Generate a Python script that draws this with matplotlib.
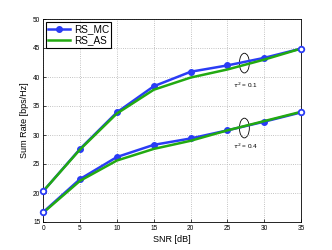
import numpy as np
import matplotlib.pyplot as plt
from matplotlib.patches import Ellipse

plt.rcParams['font.family'] = ['Liberation Sans', 'DejaVu Sans']

snr = [0, 5, 10, 15, 20, 25, 30, 35]
mc_01 = [20.3, 27.6, 33.9, 38.4, 40.9, 42.0, 43.3, 44.9]
as_01 = [20.3, 27.5, 33.7, 37.8, 39.9, 41.3, 43.0, 44.9]
mc_04 = [16.7, 22.4, 26.2, 28.3, 29.4, 30.8, 32.3, 33.9]
as_04 = [16.6, 22.1, 25.6, 27.6, 29.0, 30.8, 32.4, 34.0]

blue = '#2a3cf5'
green = '#22aa11'

fig = plt.figure(figsize=(3.32, 2.5), dpi=100)
ax = fig.add_axes([0.13, 0.112, 0.777, 0.812])

for mc, rs in [(mc_01, as_01), (mc_04, as_04)]:
    ax.plot(snr, mc, '-', color=blue, lw=1.8, marker='o', ms=4,
            markevery=list(range(1, len(snr) - 1)), label='RS_MC')
    ax.plot([snr[0], snr[-1]], [mc[0], mc[-1]], 'o', color=blue, ms=4,
            mfc='white', mew=1.3, clip_on=False, zorder=3)
    ax.plot(snr, rs, '-', color=green, lw=1.8, label='RS_AS')

h, l = ax.get_legend_handles_labels()
leg = ax.legend(h[:2], l[:2], loc='upper left', fontsize=7.2, handlelength=2.2,
                fancybox=False, edgecolor='black', framealpha=1,
                borderpad=0.25, labelspacing=0.1, handletextpad=0.35,
                borderaxespad=0.25)
leg.get_lines()[0].set_marker('o')
leg.get_lines()[0].set_markersize(4)
leg.get_frame().set_linewidth(0.8)

ax.add_patch(Ellipse((27.3, 42.4), 1.35, 3.4, fill=False, lw=0.6, color='black'))
ax.add_patch(Ellipse((27.3, 31.2), 1.35, 3.4, fill=False, lw=0.6, color='black'))
ax.text(27.4, 38.6, r'$\tau^2$ = 0.1', fontsize=4.6, ha='center', va='center')
ax.text(27.4, 28.0, r'$\tau^2$ = 0.4', fontsize=4.6, ha='center', va='center')

ax.set_xlim(0, 35)
ax.set_ylim(15, 50)
ax.set_xticks(range(0, 36, 5))
ax.set_yticks(range(15, 51, 5))
ax.tick_params(labelsize=4.7, direction='in', length=2, width=0.5, pad=2)
ax.grid(True, linestyle=':', color='#b0b0b0', lw=0.6)
for s in ax.spines.values():
    s.set_linewidth(0.6)
ax.set_xlabel('SNR [dB]', fontsize=6.5, labelpad=2)
ax.set_ylabel('Sum Rate [bps/Hz]', fontsize=6.5, labelpad=3)

fig.savefig('out.png', dpi=100)
